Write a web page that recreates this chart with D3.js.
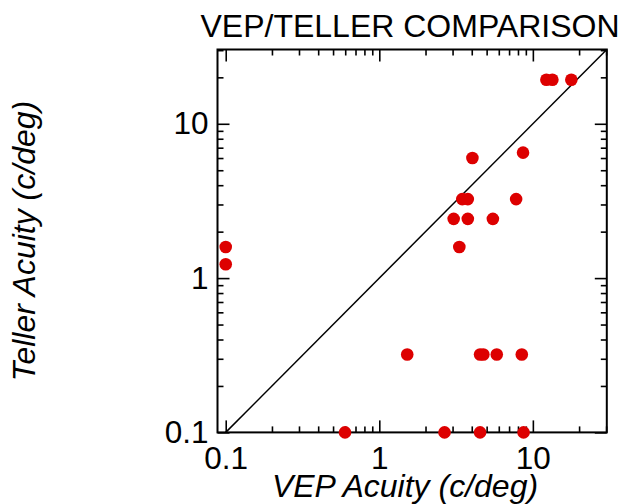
<!DOCTYPE html>
<html>
<head>
<meta charset="utf-8">
<script src="https://cdn.jsdelivr.net/npm/d3@7"></script>
<style>
  html, body { margin: 0; padding: 0; background: #fff; }
  svg { display: block; }
  text { font-family: "Liberation Sans", Arial, sans-serif; fill: #000; }
</style>
</head>
<body>
<svg id="chart" width="619" height="504"></svg>
<script>
// ---- data ----
const vepAcuity    = [12.25, 13.4, 17.8, 4.04, 8.63, 3.47, 3.77, 7.78, 3.05, 3.77, 5.49, 3.32, 0.1, 0.1, 1.52, 4.53, 4.76, 5.82, 8.47, 0.598, 2.66, 4.53, 8.7];
const tellerAcuity = [19.3, 19.3, 19.3, 6.0, 6.5, 3.25, 3.25, 3.25, 2.42, 2.42, 2.42, 1.59, 1.59, 1.23, 0.32, 0.32, 0.32, 0.32, 0.32, 0.1, 0.1, 0.1, 0.1];
const majorTicks = [0.1, 1, 10];
const majorTickLabels = ["0.1", "1", "10"];
const minorTicks = [0.2, 0.3, 0.4, 0.5, 0.6, 0.7, 0.8, 0.9, 2, 3, 4, 5, 6, 7, 8, 9, 20, 30];
const xDomain = [0.0884, 30.3];
const yDomain = [0.1, 30.3];
const chartTitle = "VEP/TELLER COMPARISON";
const xTitle = "VEP Acuity (c/deg)";
const yTitle = "Teller Acuity (c/deg)";

// ---- layout ----
const pL = 217.5, pR = 606.8, pT = 49.5, pB = 432.4;
const svg = d3.select("#chart");

const x = d3.scaleLog().domain(xDomain).range([pL, pR]);
const y = d3.scaleLog().domain(yDomain).range([pB, pT]);

const fmt = d => majorTickLabels[majorTicks.indexOf(d)];
const FS = 31.5;
const TFS = 32;

function styleAxis(g) {
  g.select(".domain").remove();
  g.selectAll(".tick line").attr("stroke", "#000").attr("stroke-width", 1.6);
  g.selectAll(".tick text").attr("font-size", FS).attr("font-family", '"Liberation Sans", Arial, sans-serif');
}

const xMinor = minorTicks.filter(v => v >= xDomain[0] && v <= xDomain[1]);
const yMinor = minorTicks.filter(v => v >= yDomain[0] && v <= yDomain[1]);

// bottom
svg.append("g").attr("transform", `translate(0,${pB})`)
  .call(d3.axisBottom(x).tickValues(majorTicks).tickFormat(fmt).tickSizeInner(-12).tickPadding(14))
  .call(styleAxis);
svg.append("g").attr("transform", `translate(0,${pB})`)
  .call(d3.axisBottom(x).tickValues(xMinor).tickFormat("").tickSizeInner(-6))
  .call(styleAxis);
// top
svg.append("g").attr("transform", `translate(0,${pT})`)
  .call(d3.axisTop(x).tickValues(majorTicks).tickFormat("").tickSizeInner(-12))
  .call(styleAxis);
svg.append("g").attr("transform", `translate(0,${pT})`)
  .call(d3.axisTop(x).tickValues(xMinor).tickFormat("").tickSizeInner(-6))
  .call(styleAxis);
// left
svg.append("g").attr("transform", `translate(${pL},0)`)
  .call(d3.axisLeft(y).tickValues(majorTicks).tickFormat(fmt).tickSizeInner(-12).tickPadding(9))
  .call(styleAxis);
svg.append("g").attr("transform", `translate(${pL},0)`)
  .call(d3.axisLeft(y).tickValues(yMinor).tickFormat("").tickSizeInner(-6))
  .call(styleAxis);
// right
svg.append("g").attr("transform", `translate(${pR},0)`)
  .call(d3.axisRight(y).tickValues(majorTicks).tickFormat("").tickSizeInner(-12))
  .call(styleAxis);
svg.append("g").attr("transform", `translate(${pR},0)`)
  .call(d3.axisRight(y).tickValues(yMinor).tickFormat("").tickSizeInner(-6))
  .call(styleAxis);

// frame
svg.append("rect")
  .attr("x", pL).attr("y", pT)
  .attr("width", pR - pL).attr("height", pB - pT)
  .attr("fill", "none").attr("stroke", "#000").attr("stroke-width", 2);

// identity line
const lo = Math.max(xDomain[0], yDomain[0]), hi = Math.min(xDomain[1], yDomain[1]);
svg.append("line")
  .attr("x1", x(lo)).attr("y1", y(lo))
  .attr("x2", x(hi)).attr("y2", y(hi))
  .attr("stroke", "#000").attr("stroke-width", 1.5);

// points
svg.append("g").selectAll("circle")
  .data(vepAcuity.map((v, i) => [v, tellerAcuity[i]]))
  .join("circle")
  .attr("cx", d => x(d[0]))
  .attr("cy", d => y(d[1]))
  .attr("r", 6.3)
  .attr("fill", "#dd0000");

// titles
svg.append("text")
  .attr("x", 410).attr("y", 37)
  .attr("text-anchor", "middle")
  .attr("font-size", TFS)
  .text(chartTitle);

svg.append("text")
  .attr("x", 405).attr("y", 497)
  .attr("text-anchor", "middle")
  .attr("font-size", TFS)
  .attr("font-style", "italic")
  .text(xTitle);

svg.append("text")
  .attr("transform", `translate(35,241) rotate(-90)`)
  .attr("text-anchor", "middle")
  .attr("font-size", TFS)
  .attr("font-style", "italic")
  .text(yTitle);
</script>
</body>
</html>
